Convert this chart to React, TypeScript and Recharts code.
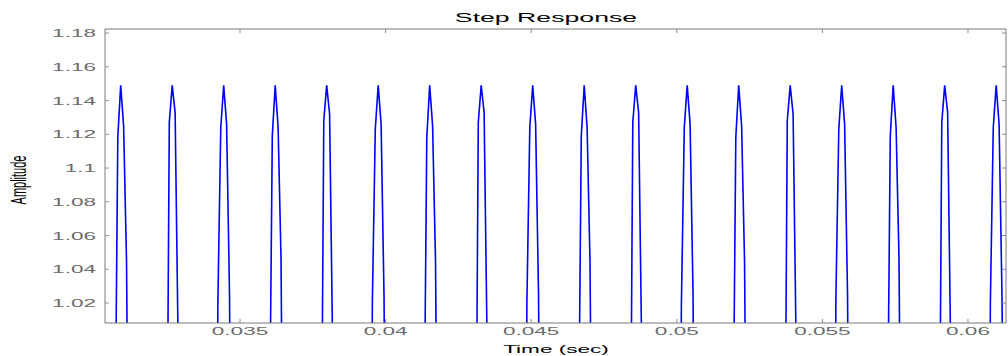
import { LineChart, Line, XAxis, YAxis } from 'recharts';

// one entry per visible spike (sec / amplitude)
const sampleStep = 0.0001;
const peakTimes = [
  0.030903, 0.032672, 0.03444, 0.036209, 0.037977, 0.039746, 0.041514, 0.043283, 0.045052,
  0.04682, 0.048589, 0.050357, 0.052126, 0.053894, 0.055663, 0.057431, 0.0592, 0.060968,
];
const preDip = [0.62, 0.58, 0.66, 0.61, 0.57, 0.65, 0.6, 0.58, 0.64, 0.62, 0.57, 0.66, 0.61, 0.58, 0.65, 0.6, 0.57, 0.64];
const riseFoot = [0.92, 0.86, 1.02, 0.93, 0.87, 1.021, 0.92, 0.86, 1.02, 0.925, 0.865, 1.018, 0.92, 0.86, 1.022, 0.93, 0.87, 1.02];
const riseShoulder = [1.118, 1.127, 1.124, 1.119, 1.128, 1.123, 1.118, 1.127, 1.124, 1.119, 1.127, 1.124, 1.118, 1.128, 1.123, 1.119, 1.127, 1.124];
const peakValues = [1.149, 1.149, 1.149, 1.149, 1.149, 1.149, 1.149, 1.149, 1.149, 1.149, 1.149, 1.149, 1.149, 1.149, 1.149, 1.149, 1.149, 1.149];
const fallShoulder = [1.125, 1.133, 1.126, 1.124, 1.132, 1.126, 1.125, 1.133, 1.126, 1.124, 1.133, 1.126, 1.125, 1.132, 1.126, 1.124, 1.133, 1.126];
const fallKnee = [1.045, 1.0, 1.025, 1.046, 1.0, 1.024, 1.045, 1.0, 1.025, 1.044, 1.0, 1.026, 1.045, 1.0, 1.025, 1.046, 1.0, 1.024];
const tailDip = [0.83, 0.76, 0.8, 0.82, 0.77, 0.8, 0.83, 0.76, 0.79, 0.82, 0.77, 0.8, 0.83, 0.76, 0.8, 0.82, 0.77, 0.8];

const xTicks = [0.035, 0.04, 0.045, 0.05, 0.055, 0.06];
const yTicks = [1.02, 1.04, 1.06, 1.08, 1.1, 1.12, 1.14, 1.16, 1.18];

const data: { t: number; v: number }[] = [];
peakTimes.forEach((tp, i) => {
  const vals = [preDip[i], riseFoot[i], riseShoulder[i], peakValues[i], fallShoulder[i], fallKnee[i], tailDip[i]];
  vals.forEach((v, k) => data.push({ t: +(tp + (k - 3) * sampleStep).toFixed(6), v }));
});

const font = '"Liberation Sans", Arial, sans-serif';
const stretch = 2.05;

function YTick({ x, y, payload }: any) {
  return (
    <text transform={`translate(${x},${y}) scale(${stretch},1)`} textAnchor="end" dy={4}
      fontSize={11} fontFamily={font} fill="#6b6b6b">
      {String(payload.value)}
    </text>
  );
}

function XTick({ x, y, payload }: any) {
  return (
    <text transform={`translate(${x},${y}) scale(${stretch},1)`} textAnchor="middle" dy={10}
      fontSize={11} fontFamily={font} fill="#6b6b6b">
      {String(payload.value)}
    </text>
  );
}

const noLabel = () => <g />;

export default function App() {
  return (
    <div style={{ position: 'absolute', left: 0, top: 0, width: 1008, height: 356, background: '#fff' }}>
      <LineChart width={1008} height={356} data={data} margin={{ top: 24, right: 0, bottom: 13, left: 45 }}>
        <XAxis xAxisId="b" dataKey="t" type="number" domain={[0.030364, 0.061305]} allowDataOverflow
          ticks={xTicks} tick={XTick} tickSize={-4} tickMargin={6} height={20}
          stroke="#7a7a7a" tickLine={{ stroke: '#8a8a8a' }} />
        <XAxis xAxisId="t" dataKey="t" type="number" orientation="top" domain={[0.030364, 0.061305]} allowDataOverflow
          ticks={xTicks} tick={noLabel} tickSize={-4} height={5}
          stroke="#7a7a7a" tickLine={{ stroke: '#8a8a8a' }} />
        <YAxis yAxisId="l" type="number" domain={[1.00815, 1.1824]} allowDataOverflow
          ticks={yTicks} tick={YTick} tickSize={-4} tickMargin={13} width={60}
          stroke="#7a7a7a" tickLine={{ stroke: '#9a9a9a' }} />
        <YAxis yAxisId="r" type="number" orientation="right" domain={[1.00815, 1.1824]} allowDataOverflow
          ticks={yTicks} tick={noLabel} tickSize={-4} width={2}
          stroke="#7a7a7a" tickLine={{ stroke: '#8a8a8a' }} />
        <Line xAxisId="b" yAxisId="l" dataKey="v" stroke="#0000ff" strokeWidth={1.6} dot={false}
          isAnimationActive={false} type="linear" />
      </LineChart>
      <div style={{ position: 'absolute', left: 546, top: 17, transform: `translate(-50%,-50%) scaleX(${stretch})`,
        fontFamily: font, fontSize: 13, color: '#000', whiteSpace: 'nowrap' }}>Step Response</div>
      <div style={{ position: 'absolute', left: 556, top: 349, transform: `translate(-50%,-50%) scaleX(${stretch})`,
        fontFamily: font, fontSize: 11, color: '#000', whiteSpace: 'nowrap' }}>Time (sec)</div>
      <div style={{ position: 'absolute', left: 18, top: 180, transform: `translate(-50%,-50%) scaleX(${stretch}) rotate(-90deg)`,
        fontFamily: font, fontSize: 11, color: '#000', whiteSpace: 'nowrap' }}>Amplitude</div>
    </div>
  );
}
